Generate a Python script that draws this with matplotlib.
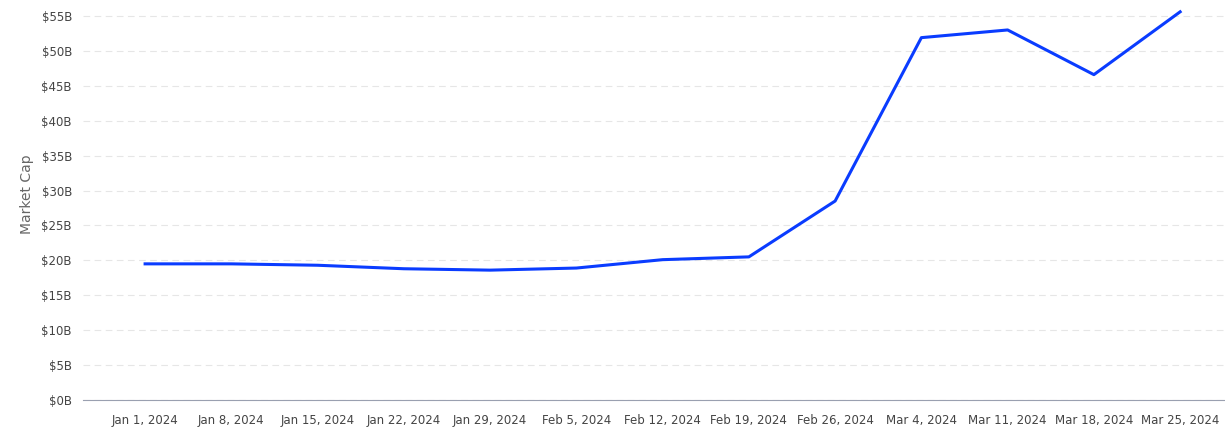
import matplotlib.pyplot as plt
import matplotlib.dates as mdates
import numpy as np
import datetime as dt

dates = [dt.date(2024, 1, 1) + dt.timedelta(days=7 * i) for i in range(13)]
tick_labels = ["Jan 1, 2024", "Jan 8, 2024", "Jan 15, 2024", "Jan 22, 2024", "Jan 29, 2024",
               "Feb 5, 2024", "Feb 12, 2024", "Feb 19, 2024", "Feb 26, 2024", "Mar 4, 2024",
               "Mar 11, 2024", "Mar 18, 2024", "Mar 25, 2024"]
market_cap = [19.5, 19.5, 19.3, 18.8, 18.6, 18.9, 20.1, 20.5, 28.5, 51.9, 53.0, 46.6, 55.6]

fig = plt.figure(figsize=(12.25, 4.28), dpi=100)
ax = fig.add_axes([83 / 1225, 28 / 428, 1 - 83 / 1225, 412 / 428])

x = mdates.date2num(dates)
ax.plot(x, market_cap, color="#0a3cff", lw=2.2)
ax.set_xticks(x)
ax.set_xticklabels(tick_labels, fontsize=8.5, color="#444444")
ax.set_xlim(x[0] - 0.72 * 7, x[-1] + 0.52 * 7)
ax.set_ylim(0, 55 * 412 / 384)
yt = np.arange(0, 60, 5)
ax.set_yticks(yt)
ax.set_yticklabels([f"${v}B" for v in yt], fontsize=8.5, color="#444444")
ax.grid(axis="y", color="#e6e6e6", ls=(0, (6, 4)), lw=0.8)
ax.tick_params(axis="both", length=0, pad=8)
ax.tick_params(axis="x", pad=10)
for s in ["top", "right", "left"]:
    ax.spines[s].set_visible(False)
ax.spines["bottom"].set_color("#9aa0b0")
ax.set_ylabel("Market Cap", color="#666666", fontsize=10)
ax.yaxis.set_label_coords(-0.043, 0.5)

fig.savefig("out.png")
